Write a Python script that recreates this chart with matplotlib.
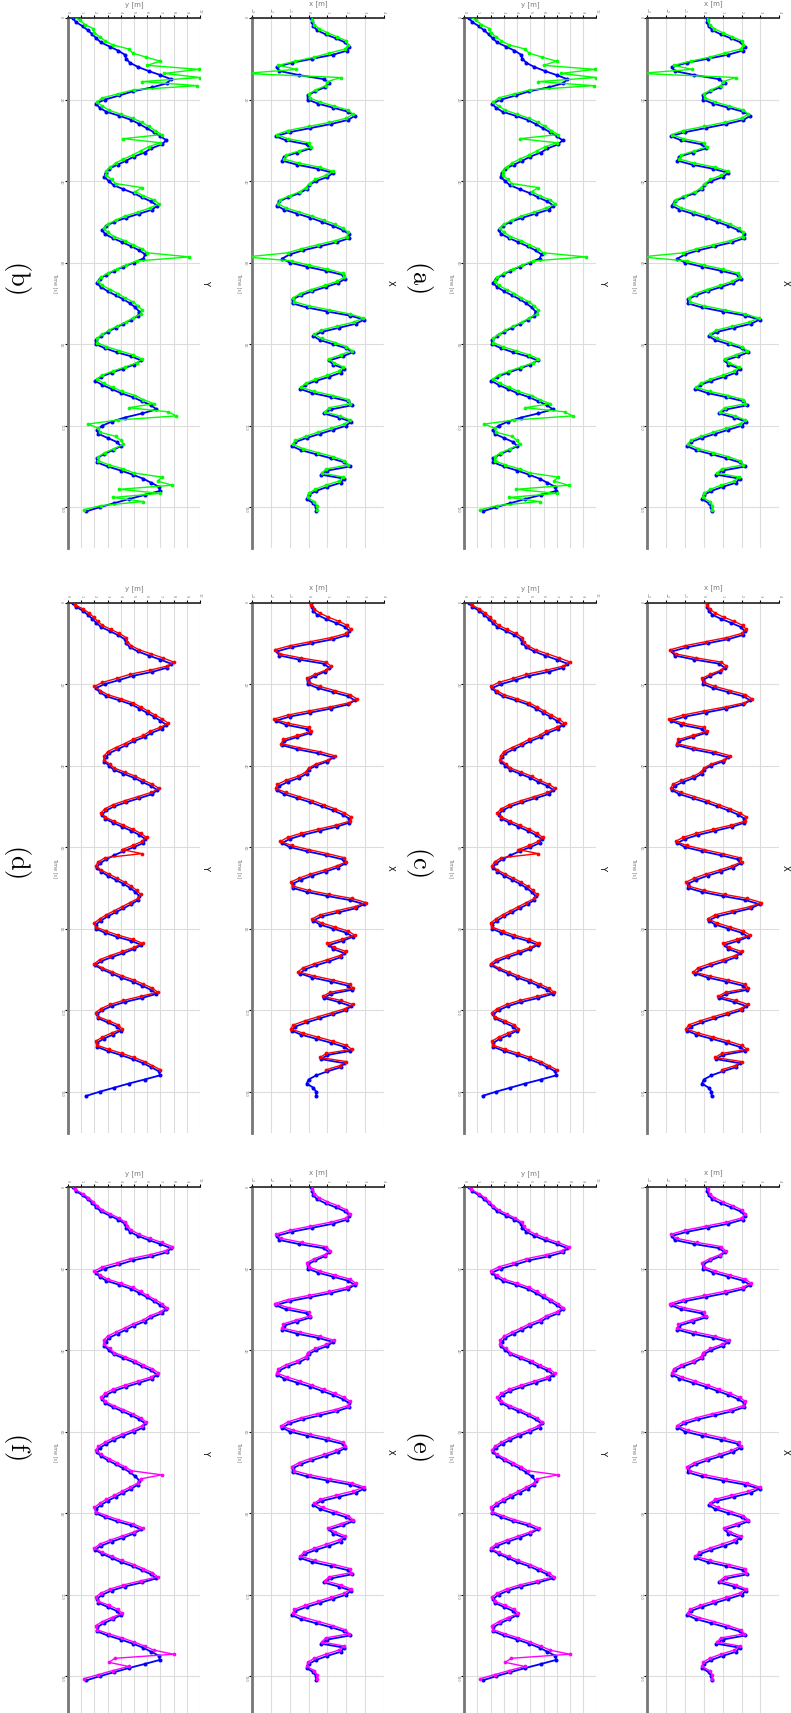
import numpy as np
import matplotlib
matplotlib.use("Agg")
import matplotlib.pyplot as plt

plt.rcParams["mathtext.fontset"] = "cm"

# reference trajectory (blue), sampled every second
t_ref = np.arange(0, 122, 1.0)
x_ref = [0.15, 0.18, 0.25, 0.45, 0.9, 1.45, 1.95, 2.17, 2.05, 1.3,
         0.2, -0.9, -1.7, -1.55, -0.5, 0.8, 1.1, 0.85, 0.35, -0.05,
         -0.05, 0.5, 1.3, 2.1, 2.45, 2.1, 1.2, 0.1, -1.0, -1.75,
         -1.2, -0.1, 0.1, -0.6, -1.3, -1.4, -0.6, 0.5, 1.3, 1.0,
         0.4, 0.0, -0.1, -0.5, -1.1, -1.55, -1.7, -1.3, -0.6, 0.1,
         0.7, 1.3, 1.8, 2.15, 2.15, 1.5, 0.6, -0.3, -1.0, -1.4,
         -1.0, -0.1, 0.9, 1.8, 1.95, 1.55, 0.9, 0.2, -0.4, -0.85,
         -0.85, -0.1, 1.0, 2.2, 2.95, 2.5, 1.6, 0.7, 0.25, 0.6,
         1.3, 2.0, 2.35, 1.8, 1.1, 1.3, 1.9, 1.7, 1.1, 0.4,
         -0.2, -0.45, 0.2, 1.2, 2.1, 2.3, 1.2, 0.8, 1.6, 2.25,
         2.0, 1.3, 0.6, -0.1, -0.7, -0.9, -0.4, 0.4, 1.2, 1.9,
         2.2, 1.0, 0.65, 1.9, 1.7, 1.0, 0.4, 0.0, -0.1, 0.25,
         0.4, 0.41]
y_ref = [0.35, 0.6, 1.1, 1.5, 1.85, 2.15, 2.5, 3.15, 3.8, 4.3,
         4.4, 4.7, 5.3, 6.1, 7.0, 7.8, 7.5, 6.4, 4.9, 3.9,
         2.8, 2.1, 2.4, 2.9, 3.9, 4.8, 5.4, 5.95, 6.5, 7.0,
         7.45, 7.1, 6.3, 5.8, 5.0, 4.4, 3.75, 3.1, 2.85, 2.75,
         3.1, 3.45, 4.2, 5.0, 5.6, 6.3, 6.75, 6.4, 5.4, 4.4,
         3.5, 2.9, 2.6, 2.8, 3.4, 4.1, 4.8, 5.4, 5.85, 5.7,
         5.0, 4.2, 3.5, 2.9, 2.4, 2.17, 2.5, 3.0, 3.6, 4.2,
         4.7, 5.1, 5.4, 5.3, 4.8, 4.2, 3.6, 3.0, 2.5, 2.1,
         2.1, 2.8, 3.7, 4.8, 5.55, 5.0, 4.2, 3.3, 2.5, 2.05,
         2.6, 3.3, 4.0, 4.9, 5.6, 6.3, 6.7, 5.6, 4.3, 3.3,
         2.6, 2.2, 2.3, 3.0, 3.7, 4.0, 3.4, 2.7, 2.2, 2.2,
         3.0, 4.0, 4.9, 5.7, 6.3, 6.9, 6.95, 5.8, 4.6, 3.5,
         2.4, 1.4]

# estimate 1 (green); estimates are time-stamped slightly ahead of the reference
t_green = np.arange(0, 122, 1.0) - 0.4
x_green = [0.2, 0.2, 0.3, 0.55, 1.0, 1.5, 2.0, 2.1, 1.95, 1.1,
           0.3, -0.7, -1.6, -0.65, -3.4, 1.7, 1.0, 0.9, 0.4, 0.0,
           0.05, 0.6, 1.35, 2.1, 2.35, 2.0, 1.1, 0.0, -1.1, -1.7,
           -1.1, 0.0, 0.15, -0.5, -1.2, -1.3, -0.5, 0.6, 1.3, 0.9,
           0.35, 0.05, -0.15, -0.45, -1.0, -1.5, -1.6, -1.2, -0.5, 0.2,
           0.8, 1.4, 1.85, 2.1, 2.05, 1.4, 0.5, -0.4, -1.1, -3.3,
           -0.9, 0.0, 1.0, 1.8, 1.9, 1.5, 0.85, 0.15, -0.45, -0.8,
           -0.75, 0.0, 1.1, 2.2, 2.9, 2.4, 1.5, 0.65, 0.3, 0.7,
           1.4, 2.0, 2.3, 1.7, 1.1, 1.35, 1.85, 1.6, 1.0, 0.35,
           -0.15, -0.4, 0.3, 1.3, 2.1, 2.2, 1.1, 0.85, 1.65, 2.2,
           1.9, 1.2, 0.5, -0.15, -0.7, -0.85, -0.3, 0.5, 1.3, 1.9,
           2.1, 0.95, 0.7, 1.85, 1.6, 0.9, 0.35, 0.0, -0.05, 0.3,
           0.45, 0.45]
y_green = [0.4, 0.9, 1.3, 1.9, 2.0, 2.4, 2.8, 3.4, 4.6, 4.9,
           5.9, 7.0, 6.0, 9.9, 7.3, 10.0, 5.6, 9.8, 5.0, 3.8,
           2.6, 2.2, 2.6, 3.1, 4.0, 4.9, 5.6, 6.1, 6.6, 7.1,
           4.2, 7.0, 6.1, 5.5, 4.9, 4.2, 3.6, 3.2, 2.9, 2.9,
           3.3, 3.6, 5.6, 5.1, 5.7, 6.5, 6.9, 6.2, 5.3, 4.3,
           3.6, 3.0, 2.7, 3.0, 3.5, 4.3, 4.9, 5.6, 6.0, 9.2,
           5.2, 4.4, 3.7, 3.0, 2.5, 2.3, 2.6, 3.2, 3.8, 4.3,
           4.9, 5.3, 5.6, 5.5, 4.9, 4.4, 3.7, 3.1, 2.6, 2.2,
           2.2, 2.9, 3.9, 4.9, 5.6, 5.2, 4.3, 3.4, 2.6, 2.2,
           2.7, 3.4, 4.1, 5.1, 5.7, 6.5, 4.6, 7.6, 8.2, 3.8,
           1.5, 2.3, 2.4, 3.6, 4.0, 4.2, 3.5, 2.8, 2.3, 2.3,
           3.1, 4.2, 5.0, 7.1, 6.8, 7.9, 3.9, 7.0, 3.4, 5.7,
           2.5, 1.2]

# estimate 2 (red)
t_red = np.arange(0, 116, 1.0) - 0.4
x_red = [0.1, 0.15, 0.3, 0.6, 1.05, 1.6, 2.05, 2.25, 2.0, 1.2,
         0.1, -1.0, -1.8, -1.5, -0.4, 0.9, 1.2, 0.9, 0.35, -0.1,
         0.0, 0.6, 1.4, 2.2, 2.55, 2.15, 1.15, 0.0, -1.1, -1.85,
         -1.1, 0.0, 0.15, -0.6, -1.35, -1.45, -0.5, 0.6, 1.4, 1.05,
         0.4, 0.0, -0.15, -0.55, -1.2, -1.65, -1.75, -1.2, -0.5, 0.2,
         0.8, 1.4, 1.9, 2.25, 2.2, 1.45, 0.5, -0.4, -1.1, -1.5,
         -0.9, 0.0, 1.0, 1.9, 2.0, 1.5, 0.85, 0.1, -0.5, -0.95,
         -0.8, 0.0, 1.1, 2.3, 3.05, 2.45, 1.5, 0.6, 0.2, 0.7,
         1.4, 2.1, 2.45, 1.75, 1.0, 1.35, 2.0, 1.65, 1.0, 0.3,
         -0.3, -0.55, 0.3, 1.3, 2.2, 2.35, 1.15, 0.75, 1.7, 2.35,
         1.95, 1.25, 0.5, -0.2, -0.8, -0.95, -0.3, 0.5, 1.3, 2.0,
         2.3, 0.95, 0.6, 2.0, 1.65, 0.95]
y_red = [0.3, 0.55, 1.15, 1.6, 1.95, 2.25, 2.6, 3.25, 3.9, 4.4,
         4.5, 4.8, 5.4, 6.3, 7.2, 8.0, 7.5, 6.2, 4.7, 3.7,
         2.6, 2.0, 2.45, 3.0, 4.0, 4.9, 5.5, 6.05, 6.6, 7.15,
         7.6, 7.0, 6.2, 5.7, 4.9, 4.3, 3.6, 3.0, 2.75, 2.7,
         3.15, 3.5, 4.3, 5.1, 5.7, 6.4, 6.9, 6.3, 5.3, 4.3,
         3.4, 2.8, 2.5, 2.8, 3.45, 4.2, 4.9, 5.5, 5.95, 5.6,
         4.9, 4.1, 5.6, 2.8, 2.3, 2.1, 2.5, 3.1, 3.7, 4.3,
         4.8, 5.2, 5.5, 5.3, 4.7, 4.1, 3.5, 2.9, 2.4, 2.0,
         2.1, 2.9, 3.8, 4.9, 5.65, 5.0, 4.1, 3.2, 2.4, 2.0,
         2.6, 3.35, 4.1, 5.0, 5.7, 6.4, 6.8, 5.5, 4.2, 3.2,
         2.5, 2.1, 2.3, 3.1, 3.8, 4.1, 3.3, 2.6, 2.1, 2.2,
         3.1, 4.1, 5.0, 5.8, 6.4, 7.0]

# estimate 3 (magenta)
t_mag = np.arange(0, 122, 1.0) - 0.4
x_mag = [0.2, 0.2, 0.3, 0.55, 1.0, 1.55, 2.0, 2.2, 2.0, 1.2,
         0.1, -1.0, -1.75, -1.45, -0.35, 0.9, 1.15, 0.85, 0.3, -0.1,
         0.0, 0.6, 1.4, 2.2, 2.5, 2.05, 1.1, 0.0, -1.1, -1.8,
         -1.05, 0.0, 0.1, -0.65, -1.35, -1.4, -0.45, 0.6, 1.35, 0.95,
         0.35, -0.05, -0.15, -0.6, -1.2, -1.6, -1.7, -1.15, -0.45, 0.2,
         0.8, 1.4, 1.9, 2.2, 2.1, 1.4, 0.45, -0.4, -1.1, -1.45,
         -0.85, 0.05, 1.05, 1.85, 1.95, 1.45, 0.8, 0.1, -0.5, -0.9,
         -0.75, 0.05, 1.15, 2.3, 2.95, 2.35, 1.45, 0.6, 0.3, 0.75,
         1.45, 2.1, 2.35, 1.7, 1.05, 1.4, 1.95, 1.6, 0.95, 0.3,
         -0.25, -0.45, 0.35, 1.35, 2.2, 2.25, 1.1, 0.85, 1.7, 2.25,
         1.9, 1.2, 0.5, -0.2, -0.75, -0.85, -0.25, 0.55, 1.3, 1.95,
         2.15, 0.9, 0.7, 1.9, 1.6, 0.9, 0.3, -0.05, -0.1, 0.3,
         0.45, 0.45]
y_mag = [0.3, 0.5, 1.1, 1.55, 1.9, 2.2, 2.6, 3.2, 3.85, 4.35,
         4.5, 4.8, 5.4, 6.2, 7.1, 7.9, 7.4, 6.2, 4.7, 3.7,
         2.6, 2.0, 2.45, 3.0, 4.0, 4.9, 5.5, 6.0, 6.6, 7.1,
         7.5, 7.0, 6.2, 5.7, 4.9, 4.3, 3.6, 3.0, 2.7, 2.7,
         3.15, 3.5, 4.3, 5.1, 5.7, 6.4, 6.85, 6.3, 5.3, 4.3,
         3.4, 2.8, 2.5, 2.8, 3.45, 4.2, 4.9, 5.5, 5.9, 5.6,
         4.9, 4.1, 3.4, 2.8, 2.3, 2.1, 2.5, 3.1, 3.7, 4.3,
         4.8, 7.1, 5.5, 5.3, 4.7, 4.1, 3.5, 2.9, 2.4, 2.0,
         2.1, 2.9, 3.8, 4.9, 5.65, 5.0, 4.1, 3.2, 2.4, 2.0,
         2.6, 3.35, 4.1, 5.0, 5.7, 6.4, 6.8, 5.5, 4.2, 3.2,
         2.5, 2.1, 2.3, 3.1, 3.8, 4.1, 3.3, 2.6, 2.1, 2.2,
         3.1, 4.1, 5.0, 5.8, 6.5, 8.0, 3.55, 3.1, 4.6, 3.4,
         2.3, 1.2]

t_ticks = [0, 20, 40, 60, 80, 100, 120]
x_ticks = [-3, -2, -1, 0, 1, 2, 3, 4]
y_ticks = [0, 1, 2, 3, 4, 5, 6, 7, 8, 9, 10]

W, H = 791, 1713
fig = plt.figure(figsize=(W / 100, H / 100), dpi=100)

cols = {"X_top": (647.3, 779.3), "Y_top": (464.3, 596.3),
        "X_bot": (252.0, 384.0), "Y_bot": (68.0, 200.0)}
group_y = [18.0, 602.5, 1187.0]
panel_len = 530.0

series = [(t_green, x_green, y_green, "#00ff00"),
          (t_red, x_red, y_red, "#ff0000"),
          (t_mag, x_mag, y_mag, "#ff00ff")]
captions = [("(a)", "(b)"), ("(c)", "(d)"), ("(e)", "(f)")]


def make_panel(x0, x1, y0, is_x, t_est, est, color):
    ax = fig.add_axes([x0 / W, 1 - (y0 + panel_len) / H, (x1 - x0) / W, panel_len / H])
    ref = x_ref if is_x else y_ref
    ax.plot(ref, t_ref, "-o", color="#0000ff", lw=1.3, ms=2.9, mew=0, zorder=3)
    ax.plot(est, t_est, "-o", color=color, lw=1.0, ms=2.7, mew=0, zorder=4)
    ax.set_ylim(130, 0)
    if is_x:
        ax.set_xlim(-3, 4)
        ax.set_xticks(x_ticks)
        ax.set_xlabel("x [m]", fontsize=5, color="#777777", labelpad=2)
    else:
        ax.set_xlim(0, 10)
        ax.set_xticks(y_ticks)
        ax.set_xlabel("y [m]", fontsize=5, color="#777777", labelpad=2)
    ax.set_yticks(t_ticks)
    ax.xaxis.tick_top()
    ax.xaxis.set_label_position("top")
    ax.set_ylabel("Time [s]", fontsize=3.5, color="#777777", rotation=270, labelpad=3,
                  va="center")
    ax.tick_params(axis="both", labelsize=2.5, labelcolor="#777777", length=2.5, width=0.8,
                   pad=1, labelrotation=270)
    ax.grid(True, color="#dddddd", lw=0.8)
    ax.set_axisbelow(True)
    for s in ("right", "bottom"):
        ax.spines[s].set_visible(False)
    ax.spines["left"].set_color("#777777")
    ax.spines["left"].set_linewidth(2.0)
    ax.spines["top"].set_color("#222222")
    ax.spines["top"].set_linewidth(1.2)
    ax.text(1.0 + 6 / (x1 - x0), 0.5, "X" if is_x else "Y", transform=ax.transAxes,
            rotation=270, ha="center", va="center", fontsize=6)
    return ax


for g, y0 in enumerate(group_y):
    t_est, est_x, est_y, color = series[g]
    make_panel(*cols["X_top"], y0, True, t_est, est_x, color)
    make_panel(*cols["Y_top"], y0, False, t_est, est_y, color)
    make_panel(*cols["X_bot"], y0, True, t_est, est_x, color)
    make_panel(*cols["Y_bot"], y0, False, t_est, est_y, color)
    yc = y0 + 259
    fig.text(419 / W, 1 - yc / H, r"$\mathrm{%s}$" % captions[g][0], rotation=270,
             ha="center", va="center", fontsize=19)
    fig.text(17 / W, 1 - yc / H, r"$\mathrm{%s}$" % captions[g][1], rotation=270,
             ha="center", va="center", fontsize=19)

fig.savefig("out.png", dpi=100)
